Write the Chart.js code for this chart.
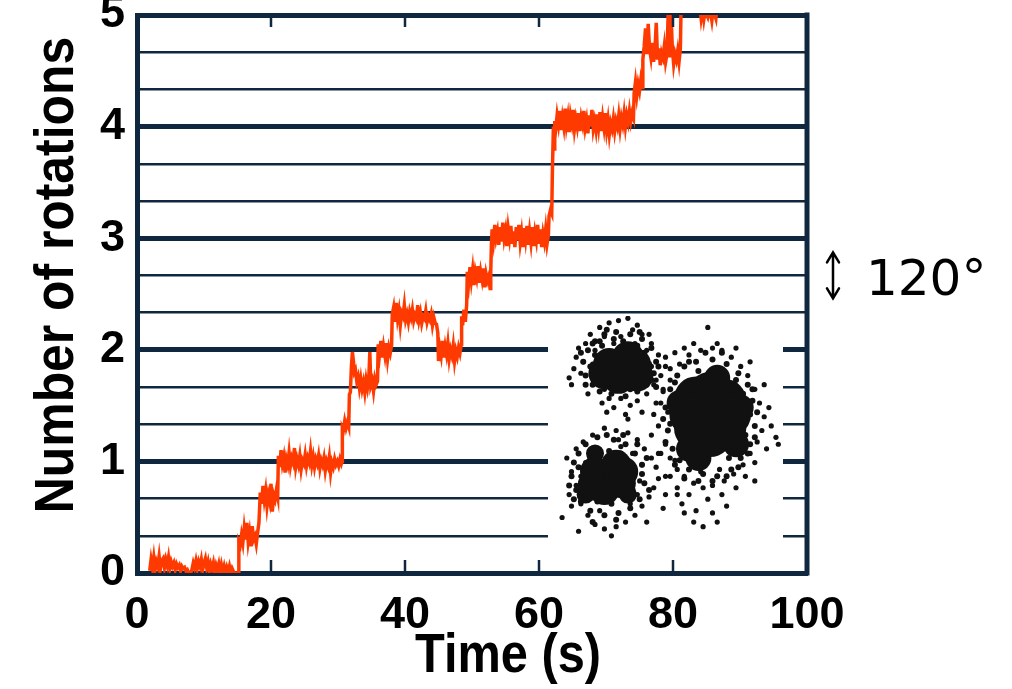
<!DOCTYPE html>
<html>
<head>
<meta charset="utf-8">
<script src="https://cdn.jsdelivr.net/npm/chart.js@4.4.0/dist/chart.umd.min.js"></script>
<style>
  body { margin: 0; background: #fff; }
  #wrap { position: relative; width: 1012px; height: 689px; }
  #inset { position: absolute; left: 548px; top: 316px; background: #fff; }
</style>
</head>
<body>
<div id="wrap">
  <canvas id="main" width="1012" height="689"></canvas>
  <canvas id="inset" width="235" height="229"></canvas>
</div>
<script>
// axis ticks
const xTicks = [0, 20, 40, 60, 80, 100];
const yTicks = [0, 1/3, 2/3, 1, 4/3, 5/3, 2, 7/3, 8/3, 3, 10/3, 11/3, 4, 13/3, 14/3, 5];

// rotation trace, [time (s), rotations]
const trace = [
  [1.9,0.02],[2.1,0.12],[2.3,0.05],[2.5,0.14],[2.7,0.03],[2.9,0.1],[3.1,0.06],[3.3,0.15],[3.5,0.04],[3.7,0.11],
  [3.9,0.13],[4.1,0.05],[4.3,0.12],[4.5,0.07],[4.7,0.14],[4.9,0.04],[5.1,0.1],[5.3,0.06],[5.5,0.09],[5.7,0.03],
  [5.9,0.08],[6.1,0.05],[6.3,0.07],[6.5,0.02],[6.7,0.06],[6.9,0.04],[7.1,0.05],[7.3,0.02],[7.5,0.03],[7.7,0.0],
  [8.0,0.0],[8.2,0.03],[8.4,0.09],[8.6,0.05],[8.8,0.11],[9.0,0.04],[9.2,0.1],[9.4,0.06],[9.6,0.12],[9.8,0.03],
  [10.0,0.09],[10.2,0.13],[10.4,0.05],[10.6,0.1],[10.8,0.02],[11.0,0.08],[11.2,0.04],[11.4,0.09],[11.6,0.01],[11.8,0.07],
  [12.0,0.03],[12.2,0.08],[12.4,0.0],[12.6,0.07],[12.8,0.01],[13.0,0.06],[13.2,0.0],[13.4,0.05],[13.6,0.01],[13.8,0.06],
  [14.0,0.0],[14.2,0.04],[14.5,0.0],[14.9,0.0],
  [15.1,0.0],[15.2,0.28],[15.4,0.25],[15.6,0.34],[15.8,0.27],[16.0,0.4],[16.2,0.3],[16.4,0.45],[16.6,0.28],[16.8,0.36],
  [17.0,0.24],[17.2,0.42],[17.4,0.3],[17.6,0.33],[17.8,0.26],[18.0,0.36],[18.2,0.45],
  [18.4,0.72],[18.6,0.62],[18.8,0.78],[19.0,0.66],[19.2,0.74],[19.4,0.6],[19.6,0.7],[19.8,0.64],[20.0,0.8],[20.2,0.55],
  [20.4,0.7],[20.6,0.66],[20.8,0.74],[21.0,0.68],
  [21.1,1.05],[21.3,0.95],[21.5,1.1],[21.7,0.98],[21.9,1.04],[22.1,0.9],[22.3,1.02],[22.5,0.97],[22.7,1.08],[22.9,0.96],
  [23.1,1.03],[23.3,0.99],[23.5,1.12],[23.7,0.95],[23.9,1.02],[24.1,0.97],[24.3,1.05],[24.5,0.93],[24.7,1.01],[24.9,0.98],
  [25.1,1.06],[25.3,0.96],[25.5,1.03],[25.7,0.99],[25.9,1.09],[26.1,0.97],[26.3,1.04],[26.5,0.95],[26.7,1.02],[26.9,0.98],
  [27.1,1.05],[27.3,0.94],[27.5,1.01],[27.7,0.97],[27.9,1.03],[28.1,0.92],[28.3,1.0],[28.5,0.96],[28.7,1.04],[28.9,0.9],
  [29.1,0.99],[29.3,0.95],[29.5,1.02],[29.7,0.97],[29.9,1.0],[30.1,0.96],[30.3,1.02],[30.5,0.98],
  [30.6,1.0],[30.65,1.3],[30.8,1.28],[31.0,1.36],[31.2,1.3],[31.4,1.35],[31.6,1.31],[31.7,1.6],[31.85,1.62],[32.0,1.85],
  [32.15,1.98],[32.3,1.9],[32.45,1.8],[32.6,1.82],[32.8,1.72],[33.0,1.76],[33.2,1.66],[33.4,1.74],[33.6,1.65],[33.8,1.71],
  [34.0,1.62],[34.2,1.73],[34.4,1.66],[34.6,1.75],[34.75,1.98],[34.9,1.68],[35.1,1.72],[35.3,1.63],[35.5,1.74],[35.7,1.69],
  [35.9,1.72],
  [36.0,2.05],[36.2,1.96],[36.4,2.08],[36.6,1.93],[36.8,2.03],[37.0,1.95],[37.2,2.06],[37.4,1.92],[37.6,2.02],[37.8,1.97],
  [38.0,2.04],
  [38.1,2.32],[38.3,2.38],[38.5,2.25],[38.7,2.42],[38.9,2.28],[39.1,2.35],[39.3,2.22],[39.5,2.33],[39.7,2.3],[39.9,2.4],
  [40.1,2.27],[40.3,2.32],[40.5,2.25],[40.7,2.34],[40.9,2.29],[41.1,2.36],[41.3,2.26],[41.5,2.31],[41.7,2.28],[41.9,2.4],
  [42.1,2.27],[42.3,2.33],[42.5,2.24],[42.7,2.3],[42.9,2.28],[43.1,2.35],[43.3,2.25],[43.5,2.3],[43.7,2.27],[43.9,2.32],
  [44.1,2.22],[44.3,2.29],[44.5,2.24],[44.7,2.23],[44.9,2.15],
  [45.0,1.9],[45.2,2.02],[45.4,1.95],[45.6,2.08],[45.8,1.93],[46.0,2.03],[46.2,1.96],[46.4,2.06],[46.6,1.92],[46.8,2.0],
  [47.0,1.95],[47.2,2.04],[47.4,1.9],[47.6,1.99],[47.8,1.94],[48.0,2.02],[48.2,1.97],[48.4,2.05],
  [48.45,2.3],[48.6,2.22],[48.8,2.36],[49.0,2.25],[49.2,2.4],[49.3,2.7],
  [49.5,2.6],[49.7,2.74],[49.9,2.62],[50.1,2.72],[50.3,2.58],[50.5,2.7],[50.7,2.64],[50.9,2.75],[51.1,2.6],[51.3,2.7],
  [51.5,2.63],[51.7,2.73],[51.9,2.56],[52.1,2.68],[52.3,2.62],[52.5,2.66],[52.7,2.55],[52.8,2.7],
  [52.9,2.95],[53.0,3.08],[53.2,2.98],[53.4,3.12],[53.6,3.0],[53.8,3.06],[54.0,2.94],[54.2,3.1],[54.4,2.97],[54.6,3.14],
  [54.8,3.0],[55.0,3.07],[55.2,2.93],[55.4,3.09],[55.6,3.0],[55.8,3.11],[56.0,2.95],[56.2,3.06],[56.4,2.92],[56.6,3.1],
  [56.8,2.98],[57.0,3.12],[57.2,2.96],[57.4,3.05],[57.6,2.92],[57.8,3.09],[58.0,2.99],[58.2,3.11],[58.4,2.94],[58.6,3.06],
  [58.8,2.96],[59.0,3.1],[59.2,2.93],[59.4,3.05],[59.6,2.98],[59.8,3.12],[60.0,2.95],[60.2,3.08],[60.4,2.92],[60.6,3.04],
  [60.8,2.97],[61.0,3.08],[61.2,2.95],[61.4,3.03],
  [61.5,3.2],[61.7,3.25],[61.9,3.22],[62.0,3.6],[62.15,4.0],[62.25,3.8],[62.35,4.05],
  [62.5,3.98],[62.7,4.1],[62.9,4.02],[63.1,4.14],[63.3,3.97],[63.5,4.08],[63.7,4.0],[63.9,4.16],[64.1,4.01],[64.3,4.09],
  [64.5,3.95],[64.7,4.1],[64.9,4.03],[65.1,4.15],[65.3,3.98],[65.5,4.07],[65.7,4.0],[65.9,4.12],[66.1,3.96],[66.3,4.08],
  [66.5,4.02],[66.7,4.14],[66.9,3.99],[67.1,4.06],[67.3,3.94],[67.5,4.1],[67.7,4.0],[67.9,4.15],[68.1,3.98],[68.3,4.05],
  [68.5,3.97],[68.7,4.11],[68.9,4.0],[69.1,4.13],[69.3,3.96],[69.5,4.08],[69.7,3.99],[69.9,4.12],[70.1,3.97],[70.3,4.06],
  [70.5,3.93],[70.7,4.03],[70.9,3.98],[71.1,4.07],[71.3,3.96],[71.5,4.05],[71.7,4.0],[71.9,4.1],[72.1,3.98],[72.3,4.08],
  [72.5,4.02],[72.7,4.12],[72.9,4.0],[73.1,4.1],[73.3,4.04],[73.5,4.14],[73.7,4.05],[73.9,4.12],[74.1,4.08],
  [74.2,4.3],[74.4,4.4],[74.6,4.28],[74.8,4.38],[75.0,4.32],[75.2,4.42],[75.4,4.35],[75.5,4.6],
  [75.7,4.72],[75.9,4.88],[76.1,4.65],[76.3,4.92],[76.5,4.7],[76.7,4.62],[76.9,4.75],[77.1,4.58],[77.3,4.68],[77.5,4.93],
  [77.7,4.6],[77.9,4.7],[78.1,4.55],[78.3,4.66],[78.5,4.62],[78.7,4.72],[78.9,4.58],[79.1,4.65],[79.3,5.05],[79.5,4.62],
  [79.7,5.02],[79.9,4.7],[80.1,4.56],[80.3,4.65],[80.5,4.6],[80.7,4.68],[80.9,4.58],[81.1,4.7],[81.2,5.05],
  [81.6,5.1],[82.2,5.14],[82.8,5.08],[83.4,5.12],[84.0,5.08],[84.2,4.97],[84.4,5.05],[84.6,4.96],[84.8,5.04],[85.2,4.98],
  [85.5,5.06],[85.8,4.95],[86.0,5.05],[86.4,4.97],[86.6,5.1]
];

// inset: dense cores, near rings and loose dots of the three clusters (inset units 0..100)
const coresA = [[31.5,77.7],[26,79],[37,79],[30,73],[34,82],[24,75],[38,74]];
const coresB = [[69,57],[63,51],[75,63],[63,64],[75,51],[69,48],[69,66],[61,57],[77,57]];
const lobesB = [[60,42],[80,44],[56,62],[72,73],[82,60],[64,38]];
const coresC = [[25.5,29.7],[20,32],[31,27],[24,24],[29,35],[19,26],[32,32]];
const lobesC = [[20,40],[34,22],[16,22]];
const ringA = [
  [15,80],[16,74],[17,85],[19,70],[20,89],[22,67],[24,92],[27,66],[29,93],[33,65],[35,92],[38,67],[40,90],[42,70],
  [44,86],[45,75],[46,80],[44,72],[18,78],[20,83],[21,74],[23,87],[26,70],[36,69],[41,84],[43,79],[28,90],[32,89],
  [38,87],[19,88],[14,84],[16,70],[25,94],[39,93],[47,78],[46,69],[30,68],[35,68],[22,89],[42,75]
];
const ringB = [
  [50,60],[51,50],[52,68],[53,42],[55,74],[56,37],[58,78],[60,33],[63,80],[66,31],[70,81],[72,30],[76,79],[78,33],
  [81,75],[82,38],[85,70],[86,44],[87,63],[88,52],[86,57],[84,48],[83,66],[80,72],[74,84],[67,84],[60,80],[54,71],
  [49,55],[50,45],[54,35],[58,29],[64,28],[70,28],[76,30],[81,34],[85,40],[88,47],[89,58],[87,68],[53,62],[52,53],
  [57,44],[55,66],[82,61],[84,53],[80,44],[64,76],[73,77],[60,38],[77,38]
];
const ringC = [
  [10,30],[11,36],[12,24],[13,40],[14,19],[16,44],[18,15],[21,47],[24,13],[28,46],[30,14],[33,44],[35,16],[37,40],
  [39,20],[40,35],[41,27],[40,31],[9,26],[15,33],[16,27],[18,38],[22,40],[26,41],[31,40],[35,35],[36,24],[34,20],
  [27,18],[21,19],[17,21],[13,34],[38,44],[42,38],[43,24],[11,20],[19,10],[29,11],[25,48],[32,48]
];
const dotsA = [
  [12,82],[14,75],[10,70],[16,88],[18,92],[22,95],[26,97],[19,79],[21,72],[24,68],[17,66],[23,62],[28,60],[31,64],
  [35,61],[38,63],[42,66],[45,70],[48,74],[50,78],[47,83],[44,88],[40,92],[36,94],[31,91],[28,88],[46,62],[40,58],
  [33,57],[26,64],[20,85],[15,80],[52,72],[49,68],[43,92],[30,98],[34,99],[38,96],[24,91],[27,84],[13,86],[11,77],
  [9,73],[29,70],[41,71],[44,78],[42,85],[37,88],[25,76],[22,80]
];
const dotsB = [
  [46,72],[48,62],[47,52],[50,44],[52,38],[55,33],[58,30],[62,27],[66,25],[70,26],[75,28],[79,31],[83,35],[86,40],
  [89,45],[91,50],[92,56],[90,62],[88,68],[85,74],[82,78],[78,82],[74,85],[70,86],[65,85],[60,83],[56,79],[52,77],
  [49,67],[45,57],[95,52],[97,47],[93,42],[88,36],[84,30],[80,25],[74,22],[68,20],[60,22],[55,25],[50,30],[47,40],
  [44,48],[62,88],[72,88],[80,86],[86,80],[94,60],[98,44],[92,70],[57,18],[63,15],[70,14],[76,17],[66,8],[72,10],
  [54,84],[50,82],[58,86],[88,28],[65,32],[73,33],[85,55],[51,58],[68,95]
];
const dotsC = [
  [8,38],[10,32],[12,26],[9,22],[14,18],[17,13],[20,9],[24,7],[29,8],[33,10],[37,13],[40,17],[43,21],[45,25],[47,29],
  [46,34],[44,38],[41,42],[38,46],[34,49],[29,50],[24,51],[19,48],[15,45],[12,42],[16,36],[14,30],[18,22],[22,15],
  [35,18],[39,28],[40,35],[36,40],[31,43],[21,42],[10,17],[6,12],[13,6],[27,4],[42,10],[49,16],[50,22],[48,40],
  [34,55],[25,58],[30,46],[20,35],[38,22],[52,30],[55,22],[58,14],[62,10],[54,37],[57,41],[61,38]
];

const navy = '#10283f';
const sans = "'Liberation Sans', Arial, sans-serif";
const isWhole = v => Math.abs(v - Math.round(v)) < 1e-6;

// condensed bold text, like the narrow face of the original
function narrowText(ctx, text, x, y, squeeze) {
  ctx.save();
  ctx.translate(x, y);
  ctx.scale(squeeze, 1);
  ctx.fillText(text, 0, 0);
  ctx.restore();
}

const decorations = {
  id: 'decorations',
  afterDraw(chart) {
    const { ctx, chartArea: a, scales: { x, y } } = chart;
    ctx.save();
    ctx.strokeStyle = navy;
    // right frame
    ctx.lineWidth = 5;
    ctx.beginPath();
    ctx.moveTo(a.right, a.top - 2.5);
    ctx.lineTo(a.right, a.bottom + 2.5);
    ctx.stroke();
    // inner x ticks, top and bottom
    ctx.lineWidth = 2.5;
    xTicks.filter(v => v > 0 && v < 100).forEach(v => {
      const px = x.getPixelForValue(v);
      ctx.beginPath();
      ctx.moveTo(px, a.bottom); ctx.lineTo(px, a.bottom - 13);
      ctx.moveTo(px, a.top); ctx.lineTo(px, a.top + 12);
      ctx.stroke();
    });
    // axis titles
    ctx.fillStyle = '#000';
    ctx.font = 'bold 56px ' + sans;
    ctx.textAlign = 'center';
    ctx.textBaseline = 'alphabetic';
    narrowText(ctx, 'Time (s)', 508, 672, 0.87);
    ctx.translate(73, 275);
    ctx.rotate(-Math.PI / 2);
    narrowText(ctx, 'Number of rotations', 0, 0, 0.89);
    ctx.restore();

    // 120 degree step marker: double arrow and label
    const mid = y.getPixelForValue(8/3);
    const ax = a.right + 26;
    ctx.save();
    ctx.strokeStyle = '#000';
    ctx.lineWidth = 2.5;
    ctx.lineCap = 'round';
    ctx.beginPath();
    ctx.moveTo(ax, mid - 23); ctx.lineTo(ax, mid + 23);
    ctx.moveTo(ax - 6, mid - 13); ctx.lineTo(ax, mid - 23); ctx.lineTo(ax + 6, mid - 13);
    ctx.moveTo(ax - 6, mid + 13); ctx.lineTo(ax, mid + 23); ctx.lineTo(ax + 6, mid + 13);
    ctx.stroke();
    ctx.fillStyle = '#000';
    ctx.textBaseline = 'alphabetic';
    ctx.textAlign = 'left';
    ctx.font = '50px "DejaVu Sans", Verdana, sans-serif';
    ctx.fillText('120°', a.right + 59, mid + 20);
    ctx.restore();
  }
};

new Chart(document.getElementById('main'), {
  type: 'line',
  data: {
    datasets: [{
      data: trace.map(p => ({ x: p[0], y: p[1] })),
      borderColor: '#ff3a00',
      borderWidth: 3.5,
      pointRadius: 0,
      tension: 0,
      clip: 0
    }]
  },
  options: {
    responsive: false,
    animation: false,
    layout: { padding: { top: 15, right: 205, left: 0, bottom: 0 } },
    plugins: { legend: { display: false }, tooltip: { enabled: false } },
    scales: {
      x: {
        type: 'linear', min: 0, max: 100,
        afterBuildTicks: s => { s.ticks = xTicks.map(v => ({ value: v })); },
        afterFit: s => { s.height = 116; s.paddingLeft = 0; s.paddingRight = 0; },
        grid: { display: false, drawTicks: false },
        border: { display: true, color: navy, width: 5 },
        ticks: { color: '#000', padding: 16, maxRotation: 0, font: { family: sans, size: 45, weight: 'bold' } }
      },
      y: {
        min: 0, max: 5,
        afterBuildTicks: s => { s.ticks = yTicks.map(v => ({ value: v })); },
        afterFit: s => { s.width = 137; s.paddingTop = 0; s.paddingBottom = 0; },
        grid: {
          color: navy,
          lineWidth: c => (c.tick && isWhole(c.tick.value)) ? 5 : 2.5,
          drawTicks: false
        },
        border: { color: navy, width: 5 },
        ticks: {
          color: '#000', padding: 12, autoSkip: false,
          font: { family: sans, size: 45, weight: 'bold' },
          callback: v => isWhole(v) ? Math.round(v) : ''
        }
      }
    }
  },
  plugins: [decorations]
});

const dot = (data, r) => ({ data: data.map(p => ({ x: p[0], y: p[1] })), pointRadius: r, backgroundColor: '#111', borderWidth: 0 });

new Chart(document.getElementById('inset'), {
  type: 'scatter',
  data: {
    datasets: [
      dot(coresA, 16), dot(coresB, 22), dot(lobesB, 13), dot(coresC, 15), dot(lobesC, 9),
      dot(ringA, 3), dot(ringB, 3), dot(ringC, 3),
      dot(dotsA, 2.6), dot(dotsB, 2.6), dot(dotsC, 2.6)
    ]
  },
  options: {
    responsive: false,
    animation: false,
    layout: { padding: 0, autoPadding: false },
    plugins: { legend: { display: false }, tooltip: { enabled: false } },
    scales: {
      x: { display: false, min: 0, max: 100 },
      y: { display: false, min: 0, max: 100 }
    },
    elements: { point: { hoverRadius: 0 } }
  }
});
</script>
</body>
</html>
